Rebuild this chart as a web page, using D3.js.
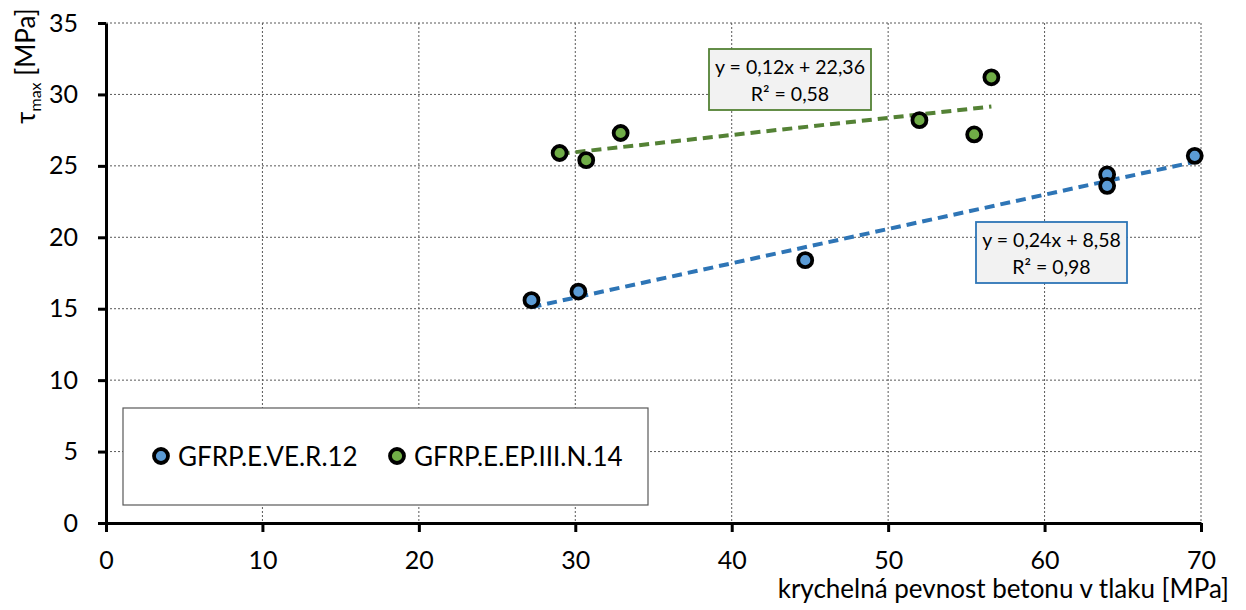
<!DOCTYPE html>
<html>
<head>
<meta charset="utf-8">
<script src="https://cdn.jsdelivr.net/npm/d3@7"></script>
<style>
  body { margin: 0; background: #fff; }
  text { font-family: Lato, "Open Sans", sans-serif; fill: #000; }
</style>
</head>
<body>
<svg id="viz" width="1246" height="610"></svg>
<script>
// series data
const blueX = [27.2, 30.2, 44.7, 64.0, 64.0, 69.6];
const blueY = [15.6, 16.2, 18.4, 24.4, 23.6, 25.7];
const greenX = [29.0, 30.7, 32.9, 52.0, 55.5, 56.6];
const greenY = [25.9, 25.4, 27.3, 28.2, 27.2, 31.2];

// trendline coefficients [slope, intercept] and labels
const blueFit = [0.24, 8.58];
const greenFit = [0.12, 22.36];
const blueLabel = ["y = 0,24x + 8,58", "R² = 0,98"];
const greenLabel = ["y = 0,12x + 22,36", "R² = 0,58"];

const seriesNames = ["GFRP.E.VE.R.12", "GFRP.E.EP.III.N.14"];
const xTicks = [0, 10, 20, 30, 40, 50, 60, 70];
const yTicks = [0, 5, 10, 15, 20, 25, 30, 35];

const svg = d3.select("#viz");
const margin = {top: 23, right: 45, bottom: 87, left: 106};
const width = 1246 - margin.left - margin.right;
const height = 610 - margin.top - margin.bottom;

const x = d3.scaleLinear().domain([0, 70]).range([0, width]);
const y = d3.scaleLinear().domain([0, 35]).range([height, 0]);

const g = svg.append("g").attr("transform", `translate(${margin.left},${margin.top})`);

// grid
g.selectAll(".vgrid").data(xTicks.slice(1)).enter()
    .append("line")
    .attr("x1", d => x(d)).attr("x2", d => x(d))
    .attr("y1", 0).attr("y2", height)
    .style("stroke", "#595959").style("stroke-width", 1).style("stroke-dasharray", "2,2");
g.selectAll(".hgrid").data(yTicks.slice(1)).enter()
    .append("line")
    .attr("x1", 0).attr("x2", width)
    .attr("y1", d => y(d)).attr("y2", d => y(d))
    .style("stroke", "#595959").style("stroke-width", 1).style("stroke-dasharray", "2,2");

// axes
const xAxis = g.append("g")
    .attr("transform", `translate(0,${height})`)
    .call(d3.axisBottom(x).tickValues(xTicks).tickSize(9).tickPadding(19).tickSizeOuter(0));
const yAxis = g.append("g")
    .call(d3.axisLeft(y).tickValues(yTicks).tickSize(8).tickPadding(20).tickSizeOuter(0));
[xAxis, yAxis].forEach(a => {
    a.select(".domain").style("stroke", "#000").style("stroke-width", 3);
    a.selectAll(".tick line").style("stroke", "#000").style("stroke-width", 3);
    a.selectAll(".tick text").style("font-size", "25px").style("font-family", "Lato, sans-serif").attr("fill", "#000");
});

// trendlines
function trend(xs, fit, color) {
    const x0 = d3.min(xs), x1 = d3.max(xs);
    g.append("line")
        .attr("x1", x(x0)).attr("y1", y(fit[0] * x0 + fit[1]))
        .attr("x2", x(x1)).attr("y2", y(fit[0] * x1 + fit[1]))
        .style("stroke", color).style("stroke-width", 4)
        .style("stroke-dasharray", "10,6");
}
trend(blueX, blueFit, "#2E75B6");
trend(greenX, greenFit, "#548235");

// points
function points(xs, ys, fill) {
    g.selectAll(null).data(xs).enter()
        .append("circle")
        .attr("cx", d => x(d))
        .attr("cy", (d, i) => y(ys[i]))
        .attr("r", 7)
        .style("fill", fill).style("stroke", "#000").style("stroke-width", 3.8);
}
points(blueX, blueY, "#5B9BD5");
points(greenX, greenY, "#70AD47");

// equation boxes
function eqBox(bx, by, bw, bh, lines, color) {
    svg.append("rect")
        .attr("x", bx).attr("y", by).attr("width", bw).attr("height", bh)
        .style("fill", "#f2f2f2").style("stroke", color).style("stroke-width", 1.8);
    svg.selectAll(null).data(lines).enter()
        .append("text")
        .attr("x", bx + bw / 2)
        .attr("y", (d, i) => by + 25 + i * 27)
        .attr("text-anchor", "middle")
        .style("font-size", "19.5px")
        .text(d => d);
}
eqBox(709, 49, 162, 61, greenLabel, "#548235");
eqBox(976, 222, 151, 61, blueLabel, "#2E75B6");

// legend
svg.append("rect")
    .attr("x", 123).attr("y", 408).attr("width", 525).attr("height", 97)
    .style("fill", "#fff").style("stroke", "#595959").style("stroke-width", 1.2);
const legendX = [161, 397];
const legendColors = ["#5B9BD5", "#70AD47"];
seriesNames.forEach((name, i) => {
    svg.append("circle")
        .attr("cx", legendX[i]).attr("cy", 456).attr("r", 7)
        .style("fill", legendColors[i]).style("stroke", "#000").style("stroke-width", 3.8);
    svg.append("text")
        .attr("x", legendX[i] + 17).attr("y", 466)
        .style("font-size", "26px")
        .text(name);
});

// axis titles
svg.append("text")
    .attr("x", 1229).attr("y", 598)
    .attr("text-anchor", "end")
    .style("font-size", "26px")
    .text("krychelná pevnost betonu v tlaku [MPa]");

const yt = svg.append("text")
    .attr("transform", "translate(35,66) rotate(-90)")
    .attr("text-anchor", "middle")
    .style("font-size", "26px");
yt.append("tspan").text("τ");
yt.append("tspan").attr("dy", 6).style("font-size", "16px").text("max");
yt.append("tspan").attr("dy", -6).text(" [MPa]");
</script>
</body>
</html>
